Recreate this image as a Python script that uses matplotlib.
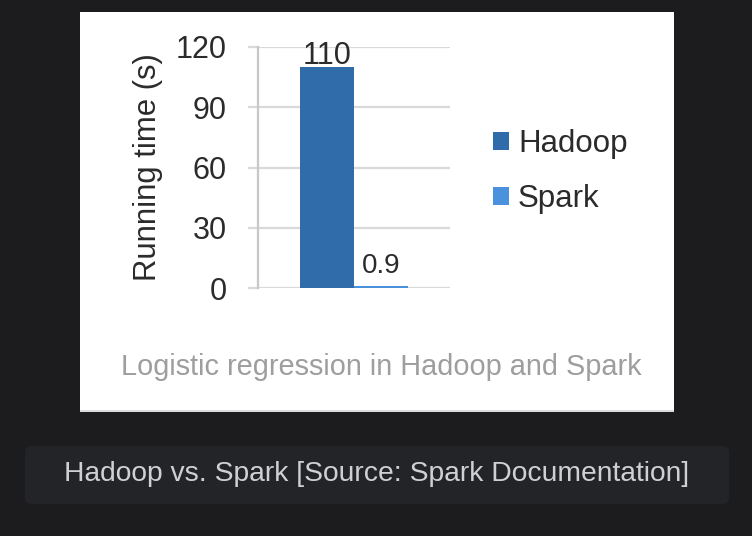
import matplotlib.pyplot as plt
from matplotlib.patches import Rectangle, FancyBboxPatch

# data
categories = ['Logistic regression']
series_names = ['Hadoop', 'Spark']
running_time = [110, 0.9]
y_ticks = [0, 30, 60, 90, 120]
bar_colors = ['#306baa', '#4a92de']

plt.rcParams['font.family'] = ['Liberation Sans', 'DejaVu Sans']

W, H = 752, 536
fig = plt.figure(figsize=(W / 100, H / 100), dpi=100)
fig.patch.set_facecolor('#1c1c1e')

def px(x0, y0, w, h):
    # pixel box (top-left origin) -> figure fraction
    return (x0 / W, 1 - (y0 + h) / H, w / W, h / H)

# white chart panel
x, y, w, h = px(80, 12, 594, 400)
fig.patches.append(Rectangle((x, y), w, h, transform=fig.transFigure,
                             facecolor='white', edgecolor='none', zorder=-2))
x, y, w, h = px(80, 410, 594, 2)
fig.patches.append(Rectangle((x, y), w, h, transform=fig.transFigure,
                             facecolor='#dcdcdc', edgecolor='none', zorder=-2))

# caption box
x, y, w, h = px(25, 446, 704, 58)
fig.patches.append(FancyBboxPatch((x, y), w, h, transform=fig.transFigure,
                                  boxstyle='round,pad=0,rounding_size=0.01',
                                  facecolor='#232427', edgecolor='none', zorder=-2))

ax = fig.add_axes(px(258, 47, 192, 241))
ax.set_zorder(2)
ax.set_facecolor('none')

width = 0.28
offsets = [-width / 2, width / 2]
bars = []
for name, val, off, col in zip(series_names, running_time, offsets, bar_colors):
    b = ax.bar(0 + off, val, width=width, color=col, label=name, zorder=3)
    bars.append(b)

ax.bar_label(bars[0], labels=['110'], padding=-2.5, fontsize=22, color='#2b2b2b')
ax.bar_label(bars[1], labels=['0.9'], padding=5.5, fontsize=20, color='#2b2b2b')

ax.set_xlim(-0.5, 0.5)
ax.set_ylim(0, 120)
ax.set_yticks(y_ticks)
ax.set_xticks([])
ax.grid(axis='y', color='#d9d9d9', linewidth=1.6, zorder=0)
for s in ['top', 'right', 'bottom']:
    ax.spines[s].set_visible(False)
ax.spines['left'].set_color('#c8c8c8')
ax.spines['left'].set_linewidth(1.6)
ax.tick_params(axis='y', length=7.5, width=1.6, color='#d9d9d9', pad=15,
               labelsize=22, labelcolor='#2b2b2b')
ax.set_ylabel('Running time (s)', fontsize=22.4, color='#2b2b2b', labelpad=9)

fig.legend(handles=bars, labels=series_names, loc='center left',
           bbox_to_anchor=(493 / W, 1 - 172 / H), frameon=False,
           fontsize=22.5, handlelength=0.5, handleheight=0.5,
           handletextpad=0.3, labelspacing=0.8, borderpad=0, borderaxespad=0,
           labelcolor='#2b2b2b')

fig.text(381 / W, 1 - 367 / H, 'Logistic regression in Hadoop and Spark',
         ha='center', va='center', fontsize=20.8, color='#9e9e9e')

fig.text(377 / W, 1 - 474 / H, 'Hadoop vs. Spark [Source: Spark Documentation]',
         ha='center', va='center', fontsize=20.3, color='#cfd0d2')

fig.savefig('out.png', dpi=100, facecolor=fig.get_facecolor())
